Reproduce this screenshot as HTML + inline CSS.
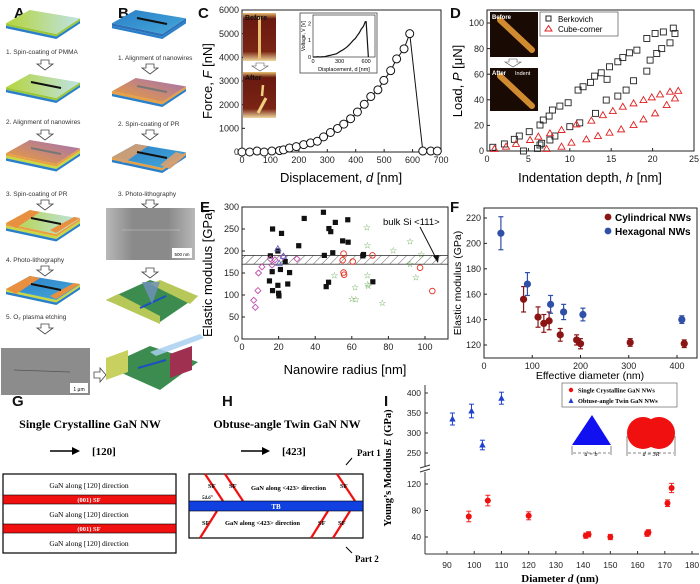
<!DOCTYPE html>
<html><head><meta charset="utf-8"><style>
html,body{margin:0;padding:0;background:#fff;}
svg{display:block;font-family:"Liberation Sans",sans-serif;}
.serif{font-family:"Liberation Serif",serif;}
</style></head><body>
<svg id="fig" width="700" height="584" viewBox="0 0 700 584" xmlns="http://www.w3.org/2000/svg">
<defs>
<linearGradient id="gA" x1="0" x2="1" y1="0" y2="0"><stop offset="0" stop-color="#b5d43a"/><stop offset="1" stop-color="#bfe3e6"/></linearGradient>
<linearGradient id="gPR" x1="0" x2="1" y1="1" y2="0"><stop offset="0" stop-color="#f0a030"/><stop offset="1" stop-color="#a070b8"/></linearGradient>
<linearGradient id="gB" x1="0" x2="1" y1="0" y2="1"><stop offset="0" stop-color="#2a7fc8"/><stop offset="1" stop-color="#45a8d8"/></linearGradient>
<linearGradient id="gSEM" x1="0" x2="1"><stop offset="0" stop-color="#b8b8b8"/><stop offset="0.3" stop-color="#8a8a8a"/><stop offset="0.7" stop-color="#8a8a8a"/><stop offset="1" stop-color="#b8b8b8"/></linearGradient>
<pattern id="hatch" width="6" height="6" patternUnits="userSpaceOnUse" patternTransform="rotate(45)"><line x1="0" y1="0" x2="0" y2="6" stroke="#333" stroke-width="0.8"/></pattern>
<linearGradient id="gPhoto" x1="0" x2="0" y1="0" y2="1"><stop offset="0" stop-color="#e8c070"/><stop offset="0.12" stop-color="#6a1a10"/><stop offset="0.8" stop-color="#7a2414"/><stop offset="1" stop-color="#f0d8a0"/></linearGradient>
</defs>

<g font-family="Liberation Sans" font-weight="bold" font-size="15" fill="#111">
<text x="14" y="18">A</text>
<text x="118" y="18">B</text>
<text x="198" y="18">C</text>
<text x="450" y="18">D</text>
<text x="200" y="212">E</text>
<text x="450" y="212">F</text>
<text x="12" y="406">G</text>
<text x="222" y="406">H</text>
<text x="384" y="406">I</text>
</g>

<g id="panelAB"></g>
<g id="panelC"></g>
<g id="panelD"></g>
<g id="panelE"></g>
<g id="panelF"></g>

<g class="serif" font-family="Liberation Serif">
<text x="90" y="428" text-anchor="middle" font-size="12" font-weight="bold">Single Crystalline GaN NW</text>
<line x1="50" y1="451" x2="76" y2="451" stroke="#000" stroke-width="1.5"/>
<polygon points="80,451 72,447 72,455" fill="#000"/>
<text x="92" y="455" font-size="11" font-weight="bold">[120]</text>
<rect x="3" y="474" width="173" height="79" fill="#fff" stroke="#000" stroke-width="1.2"/>
<rect x="3" y="495" width="173" height="9" fill="#f01010" stroke="#000" stroke-width="0.6"/>
<rect x="3" y="524" width="173" height="9" fill="#f01010" stroke="#000" stroke-width="0.6"/>
<g font-size="7.5" text-anchor="middle">
<text x="89" y="488">GaN along [120] direction</text>
<text x="89" y="502" fill="#fff" font-size="6.5" font-weight="bold">(001) SF</text>
<text x="89" y="517">GaN along [120] direction</text>
<text x="89" y="531" fill="#fff" font-size="6.5" font-weight="bold">(001) SF</text>
<text x="89" y="546">GaN along [120] direction</text>
</g>
</g>

<g font-family="Liberation Serif">
<text x="287" y="428" text-anchor="middle" font-size="12" font-weight="bold">Obtuse-angle Twin GaN NW</text>
<line x1="241" y1="451" x2="266" y2="451" stroke="#000" stroke-width="1.5"/>
<polygon points="270,451 262,447 262,455" fill="#000"/>
<text x="282" y="455" font-size="11" font-weight="bold">[423]</text>
<text x="357" y="456" font-size="9" font-weight="bold">Part 1</text>
<line x1="352" y1="458" x2="346" y2="465" stroke="#000" stroke-width="1"/>
<text x="355" y="562" font-size="9" font-weight="bold">Part 2</text>
<line x1="352" y1="553" x2="346" y2="547" stroke="#000" stroke-width="1"/>
<rect x="189" y="474" width="174" height="64" fill="#fff" stroke="#000" stroke-width="1.2"/>
<g stroke="#f01010" stroke-width="2.2">
<line x1="205" y1="474" x2="223" y2="501"/><line x1="225" y1="474" x2="243" y2="501"/><line x1="337" y1="474" x2="355" y2="501"/>
<line x1="217" y1="511" x2="200" y2="538"/><line x1="328" y1="511" x2="311" y2="538"/><line x1="350" y1="511" x2="333" y2="538"/>
</g>
<rect x="189" y="501" width="174" height="10" fill="#1040e0" stroke="#000" stroke-width="0.6"/>
<text x="276" y="509" text-anchor="middle" fill="#fff" font-size="7" font-weight="bold">TB</text>
<g font-size="6.5" font-weight="bold">
<text x="208" y="488">SF</text><text x="229" y="488">SF</text><text x="340" y="488">SF</text>
<text x="251" y="490">GaN along &lt;423&gt; direction</text>
<text x="202" y="525">SF</text><text x="225" y="525">GaN along &lt;423&gt; direction</text>
<text x="318" y="525">SF</text><text x="338" y="525">SF</text>
<text x="202" y="499" font-size="5" font-style="italic">54.6°</text>
</g>
</g>

<g id="panelI"></g>
</svg>

<script>
var NS='http://www.w3.org/2000/svg';
function mk(parent,tag,attrs,text){var e=document.createElementNS(NS,tag);for(var k in attrs)e.setAttribute(k,attrs[k]);if(text!==undefined)e.textContent=text;parent.appendChild(e);return e;}

/* ---------- DATA ---------- */
var cDisp=[0,27,53,78,105,132,146,167,191,217,241,265,287,311,336,358,382,406,430,453,478,499,523,544,570,590,636,664,687];
var cForce=[0,0,40,0,40,60,90,170,227,312,383,454,639,824,994,1179,1406,1690,2016,2343,2627,3025,3437,3934,4360,5000,40,40,40];
var cXTicks=[0,100,200,300,400,500,600,700];
var cYTicks=[0,1000,2000,3000,4000,5000,6000];
var dBerkH=[0.7,2.1,3.3,3.9,5.1,6.4,6.8,7.5,7.9,8.8,9.8,11,11.6,12.5,13,13.8,14.5,14.8,15.8,16.4,17.2,18.1,19.3,20.3,21.3,22.5,4.4,6.1,6.4,6.6,7.6,8.2,10,11.2,13.1,14.4,15.8,16.8,17.7,19.3,19.7,20.5,21.1,22.1,22.7];
var dBerkP=[2.9,5.5,9.1,11.7,15.1,20.3,24.2,27.3,32,35.1,37.7,47.6,50.2,53.6,58.5,61.1,56,65.8,69.7,73,76.7,78.8,87.9,91.8,93,96,0,2,4.7,6,8.6,11.7,19,22,29.4,39.8,42.9,47.6,54.9,62.4,71,76.2,80,84.5,91.8];
var dCubeH=[0.9,2.3,3.5,5.2,6.2,7.6,9,10.8,12.6,14,15.2,16.4,17.7,18.9,19.9,20.9,22.1,23.1,7.2,9,10.2,12,13.4,14.8,16.2,17.7,18.9,20.3,21.7,22.7];
var dCubeP=[1.6,3.4,5.5,8.6,11.2,13.8,16.4,20.8,23.7,28,31.2,34.6,37.2,39.8,41.9,44.2,46.3,47,1.6,3.4,6.5,9.1,11.7,14.3,16.9,20.3,24.7,29.4,35.9,41.1];
var dXTicks=[0,5,10,15,20,25];
var dYTicks=[0,20,40,60,80,100];
var eSqR=[16.7,21.6,34,44.5,47.5,48.5,51,57.8,55,58,31,15.5,19.6,49.6,45,66.4,66,23.6,16.5,21,26,15,19.6,25,16.7,20,20.2,47.3,46,71.5];
var eSqE=[250,240,274,288,251,244,265,271,223,220,212,189,200,196,190,192,189,176,153,158,151,132,122,125,110,104,98,129,119,130];
var eStarR=[68.2,68.5,91.8,82.7,98,91.8,95,50.5,68.5,68.7,69,61.8,60,62.2,76.7];
var eStarE=[253,213,222,201,192,170,140,144,144,124,120,117,91,90,82];
var eCircR=[55.5,55,60.5,71.3,55.5,55.8,97.3,104];
var eCircE=[194,179,176,190,151,146,162,109];
var eDiaR=[9,8.7,6.4,7.3,10.9,15.5,22.4,30,16.4,18];
var eDiaE=[150,110,88,72,164,182,187,182,168,180];
var eTriR=[19.6,20.3,22.7];
var eTriE=[205,172,188];
var eBand=[170,190];
var eXTicks=[0,20,40,60,80,100];
var eYTicks=[0,50,100,150,200,250,300];
var fCylD=[82,112,124,135,158,192,200,303,415];
var fCylE=[156,142,137,139,128,124,121,122,121];
var fCylErr=[10,8,7,7,5,4,4,3,3];
var fHexD=[35,90,138,165,205,410];
var fHexE=[208,168,152,146,144,140];
var fHexErr=[13,9,7,6,5,3];
var fXTicks=[0,100,200,300,400];
var fYTicks=[120,140,160,180,200,220];
var iTwinD=[92,99,103,110];
var iTwinE=[335,355,270,387];
var iTwinErr=[15,17,12,15];
var iSingD=[98,105,120,141,142,150,163.5,164,171,172.5];
var iSingE=[71,95,72,42,44,40,45,47,91,114];
var iSingErr=[8,8,6,4,4,4,4,4,5,7];
var iXTicks=[90,100,110,120,130,140,150,160,170,180];
var iYTicksLow=[40,80,120];
var iYTicksHigh=[250,300,350,400];

function lin(d0,d1,p0,p1){return function(v){return p0+(v-d0)*(p1-p0)/(d1-d0);};}
function axisBox(g,x0,y0,x1,y1){var r=mk(g,'rect',{x:x0,y:y0,width:x1-x0,height:y1-y0,fill:'none',stroke:'#222','stroke-width':1});

}
function xTicks(g,ticks,sx,y,fs,len){ticks.forEach(function(t){mk(g,'line',{x1:sx(t),x2:sx(t),y1:y,y2:y-len,stroke:'#222','stroke-width':1});
var tx=mk(g,'text',{x:sx(t),y:y+fs+2,'font-size':fs,'text-anchor':'middle',fill:'#222'},String(t));

});}
function yTicks(g,ticks,sy,x,fs,len){ticks.forEach(function(t){mk(g,'line',{x1:x,x2:x+len,y1:sy(t),y2:sy(t),stroke:'#222','stroke-width':1});
var tx=mk(g,'text',{x:x-3,y:sy(t)+fs*0.35,'font-size':fs,'text-anchor':'end',fill:'#222'},String(t));

});}

(function(){
var g=document.getElementById('panelAB');
function slab(x,y,top,layers){
  var w=74,h=24,tk=2.5;
  var pts=[[x,y+h*0.55],[x+w*0.32,y],[x+w,y+h*0.35],[x+w*0.68,y+h]];
  var off=0;
  layers.forEach(function(c){mk(g,'polygon',{points:[pts[0][0]+','+(pts[0][1]+off),pts[3][0]+','+(pts[3][1]+off),pts[2][0]+','+(pts[2][1]+off),pts[2][0]+','+(pts[2][1]+off+tk),pts[3][0]+','+(pts[3][1]+off+tk),pts[0][0]+','+(pts[0][1]+off+tk)].join(' '),fill:c});off+=tk;});
  var t=mk(g,'polygon',{points:pts.map(function(p){return p.join(',');}).join(' '),fill:top});
  
  
  return pts;
}
function wire(x,y,c){mk(g,'line',{x1:x+25,y1:y+8,x2:x+55,y2:y+14,stroke:c||'#111','stroke-width':2});}
function cap(x,y,t){var e=mk(g,'text',{x:x,y:y,'font-size':6.5,fill:'#333'},t);

}
function arrow(cx,y){var a=mk(g,'polygon',{points:[cx-4,y,cx+4,y,cx+4,y+4,cx+8,y+4,cx,y+10,cx-8,y+4,cx-4,y+4].join(' '),fill:'#fff',stroke:'#444','stroke-width':0.8});

}
slab(6,10,'url(#gA)',['#9bc83a','#2a7fc8']);cap(6,54,'1. Spin-coating of PMMA');arrow(45,60);
slab(6,74,'url(#gA)',['#9bc83a','#2a7fc8']);wire(6,74);cap(6,124,'2. Alignment of nanowires');arrow(45,130);
slab(6,140,'url(#gPR)',['#e8a040','#c8d840','#2a7fc8']);wire(6,140,'#777');cap(6,196,'3. Spin-coating of PR');arrow(45,200);
slab(6,210,'url(#gA)',['#e8a040','#c8d840','#2a7fc8']);
mk(g,'polygon',{points:'6,223 30,210 40,212 16,228',fill:'#e89040'});mk(g,'polygon',{points:'50,230 74,217 80,218 56,233',fill:'#e89040'});wire(6,210);cap(6,262,'4. Photo-lithography');arrow(45,266);
slab(6,276,'url(#gB)',['#c8d840','#2a7fc8']);
mk(g,'polygon',{points:'6,289 30,276 40,278 16,294',fill:'#e89040'});mk(g,'polygon',{points:'50,296 74,283 80,284 56,299',fill:'#e89040'});wire(6,276);cap(6,319,'5. O\u2082 plasma etching');arrow(45,324);
var sem=mk(g,'rect',{x:1,y:348,width:89,height:47,fill:'#8c8c8c'});


mk(g,'line',{x1:14,y1:370,x2:70,y2:372,stroke:'#555','stroke-width':0.8});
mk(g,'rect',{x:70,y:383,width:18,height:10,fill:'#fff'});mk(g,'text',{x:79,y:391,'font-size':5,'text-anchor':'middle'},'1 \u03bcm');
mk(g,'polygon',{points:'94,372 100,372 100,368 106,375 100,382 100,378 94,378',fill:'#fff',stroke:'#444','stroke-width':0.8});
slab(112,10,'url(#gB)',['#2a6fb8','#2a7fc8']);wire(112,10);cap(118,60,'1. Alignment of nanowires');arrow(150,64);
slab(112,78,'url(#gPR)',['#e8a040','#2a7fc8']);wire(112,78,'#777');cap(118,126,'2. Spin-coating of PR');arrow(150,130);
slab(112,144,'url(#gB)',['#e8a040','#2a7fc8']);
mk(g,'polygon',{points:'112,157 136,144 148,146 124,163',fill:'#d8a070',opacity:0.9});mk(g,'polygon',{points:'160,165 176,152 186,155 170,169',fill:'#d8a070',opacity:0.9});wire(112,144);cap(118,196,'3. Photo-lithography');arrow(150,200);
var sem2=mk(g,'rect',{x:106,y:208,width:89,height:52,fill:'url(#gSEM)'});


mk(g,'line',{x1:122,y1:230,x2:180,y2:230,stroke:'#ccc','stroke-width':0.6});
mk(g,'rect',{x:172,y:248,width:20,height:10,fill:'#fff'});mk(g,'text',{x:182,y:256,'font-size':4.5,'text-anchor':'middle'},'500 nm');
arrow(150,268);
mk(g,'polygon',{points:'106,300 150,280 198,296 160,322',fill:'#3c8c50'});
mk(g,'polygon',{points:'106,300 118,294 160,316 160,324',fill:'#b8c858'});mk(g,'polygon',{points:'150,284 160,280 198,296 190,304',fill:'#b8c858'});
mk(g,'line',{x1:140,y1:308,x2:166,y2:296,stroke:'#1a50c0','stroke-width':2});
mk(g,'polygon',{points:'142,282 160,282 152,304',fill:'#7090c0',opacity:0.8});
mk(g,'polygon',{points:'106,366 150,346 198,362 160,390',fill:'#3c8c50'});
mk(g,'polygon',{points:'106,358 128,350 128,372 106,380',fill:'#c8d060'});mk(g,'polygon',{points:'170,354 192,346 192,370 170,378',fill:'#a03050'});
mk(g,'line',{x1:138,y1:368,x2:166,y2:360,stroke:'#1a50c0','stroke-width':2});
mk(g,'polygon',{points:'150,352 200,334 204,338 156,356',fill:'#a8d0f0',opacity:0.85});
})();

(function(){
var g=document.getElementById('panelC');
var sx=lin(0,700,242,441), sy=lin(0,6000,152,10);
axisBox(g,242,10,441,152);
xTicks(g,cXTicks,sx,152,9,3);yTicks(g,cYTicks,sy,242,9,3);
var xt=mk(g,'text',{x:341,y:182,'font-size':13,'text-anchor':'middle'},'Displacement, ');
mk(xt,'tspan',{'font-style':'italic'},'d');mk(xt,'tspan',{},' [nm]');


var yt=mk(g,'text',{x:0,y:0,'font-size':13,'text-anchor':'middle',transform:'translate(212,81) rotate(-90)'},'Force, ');
mk(yt,'tspan',{'font-style':'italic'},'F');mk(yt,'tspan',{},' [nN]');


var pts=cDisp.map(function(d,i){return sx(d)+','+sy(cForce[i]);}).join(' ');
var pl=mk(g,'polyline',{points:pts,fill:'none',stroke:'#111','stroke-width':1});


cDisp.forEach(function(d,i){var c=mk(g,'circle',{cx:sx(d),cy:sy(cForce[i]),r:4,fill:'#fff',stroke:'#111','stroke-width':1});

});
var p1=mk(g,'rect',{x:243,y:13,width:33,height:48,fill:'url(#gPhoto)'});


mk(g,'rect',{x:258,y:17,width:3,height:42,fill:'#e8c070'});
mk(g,'text',{x:245,y:20,'font-size':7,'font-weight':'bold',fill:'#111'},'Before');
mk(g,'polygon',{points:'256,63 264,63 264,66 268,66 260,71 252,66 256,66',fill:'#fff',stroke:'#555','stroke-width':0.6});
var p2=mk(g,'rect',{x:243,y:72,width:33,height:46,fill:'url(#gPhoto)'});


mk(g,'line',{x1:263,y1:85,x2:262,y2:96,stroke:'#f0d080','stroke-width':2.5});
mk(g,'line',{x1:258,y1:113,x2:266,y2:98,stroke:'#f0d080','stroke-width':3});
mk(g,'text',{x:245,y:80,'font-size':7,'font-weight':'bold',fill:'#111'},'After');
var ib=mk(g,'rect',{x:300,y:13,width:77,height:60,fill:'#fff',stroke:'#444','stroke-width':0.8});


var ix=lin(0,700,313,375), iy=lin(0,2.5,57,15);
mk(g,'rect',{x:313,y:15,width:62,height:42,fill:'none',stroke:'#333','stroke-width':0.7});
var vp=[];cDisp.forEach(function(d,i){if(d<=600)vp.push(ix(d)+','+iy(cForce[i]/5000*2.1));});
vp.push(ix(600)+','+iy(2.1));vp.push(ix(625)+','+iy(0));
mk(g,'polyline',{points:vp.join(' '),fill:'none',stroke:'#111','stroke-width':1.2});
[0,300,600].forEach(function(t){mk(g,'text',{x:ix(t),y:63,'font-size':5.5,'text-anchor':'middle'},String(t));});
[0,1,2].forEach(function(t){mk(g,'text',{x:311,y:iy(t)+2,'font-size':5.5,'text-anchor':'end'},String(t));});
mk(g,'text',{x:344,y:71,'font-size':5.5,'text-anchor':'middle'},'Displacement, d [nm]');
mk(g,'text',{x:0,y:0,'font-size':5,'text-anchor':'middle',transform:'translate(305,36) rotate(-90)'},'Voltage, V [V]');
})();

(function(){
var g=document.getElementById('panelD');
var sx=lin(0,25,487,694), sy=lin(0,100,151,23);
axisBox(g,487,10,694,151);
xTicks(g,dXTicks,sx,151,9,3);yTicks(g,dYTicks,sy,487,9,3);
var xt=mk(g,'text',{x:590,y:182,'font-size':13,'text-anchor':'middle'},'Indentation depth, ');
mk(xt,'tspan',{'font-style':'italic'},'h');mk(xt,'tspan',{},' [nm]');


var yt=mk(g,'text',{x:0,y:0,'font-size':13,'text-anchor':'middle',transform:'translate(462,81) rotate(-90)'},'Load, ');
mk(yt,'tspan',{'font-style':'italic'},'P');mk(yt,'tspan',{},' [\u03bcN]');


dBerkH.forEach(function(h,i){var r=mk(g,'rect',{x:sx(h)-3,y:sy(dBerkP[i])-3,width:6,height:6,fill:'none',stroke:'#222','stroke-width':0.9});

});
dCubeH.forEach(function(h,i){var x=sx(h),y=sy(dCubeP[i]);var t=mk(g,'polygon',{points:[x,y-3.5,x+3.5,y+2.5,x-3.5,y+2.5].join(' '),fill:'none',stroke:'#e02020','stroke-width':0.9});

});
var a=mk(g,'rect',{x:490,y:12,width:48,height:45,fill:'#1a0a04'});


mk(g,'line',{x1:500,y1:20,x2:532,y2:50,stroke:'#d08a30','stroke-width':6,'stroke-linecap':'round'});
mk(g,'text',{x:492,y:19,'font-size':6,'font-weight':'bold',fill:'#fff'},'Before');
mk(g,'polygon',{points:'509,59 517,59 517,62 521,62 513,67 505,62 509,62',fill:'#fff',stroke:'#555','stroke-width':0.6});
var b=mk(g,'rect',{x:490,y:68,width:48,height:43,fill:'#1a0a04'});


mk(g,'line',{x1:500,y1:76,x2:532,y2:106,stroke:'#d08a30','stroke-width':6,'stroke-linecap':'round'});
mk(g,'text',{x:492,y:75,'font-size':6,'font-weight':'bold',fill:'#fff'},'After');
mk(g,'text',{x:515,y:75,'font-size':5.5,fill:'#fff'},'Indent');
var lg=mk(g,'rect',{x:540,y:12,width:78,height:24,fill:'#fff',stroke:'#555','stroke-width':0.7});


mk(g,'rect',{x:546,y:16,width:5,height:5,fill:'none',stroke:'#222'});
var l1=mk(g,'text',{x:558,y:22,'font-size':8},'Berkovich');


mk(g,'polygon',{points:'548.5,25.5 552,31 545,31',fill:'none',stroke:'#e02020'});
var l2=mk(g,'text',{x:558,y:32,'font-size':8},'Cube-corner');


})();

(function(){
var g=document.getElementById('panelE');
var sx=lin(0,100,242,425), sy=lin(0,300,339,207);
var x1=448;
var band=mk(g,'rect',{x:242,y:sy(eBand[1]),width:x1-242,height:sy(eBand[0])-sy(eBand[1]),fill:'url(#hatch)',stroke:'#333','stroke-width':0.8});


axisBox(g,242,207,x1,339);
xTicks(g,eXTicks,sx,339,9,3);yTicks(g,eYTicks,sy,242,9,3);
var xt=mk(g,'text',{x:345,y:374,'font-size':13,'text-anchor':'middle'},'Nanowire radius [nm]');


var yt=mk(g,'text',{x:0,y:0,'font-size':13,'text-anchor':'middle',transform:'translate(212,273) rotate(-90)'},'Elastic modulus [GPa]');


eSqR.forEach(function(r,i){var e=mk(g,'rect',{x:sx(r)-2.6,y:sy(eSqE[i])-2.6,width:5.2,height:5.2,fill:'#111'});

});
eStarR.forEach(function(r,i){var e=mk(g,'text',{x:sx(r),y:sy(eStarE[i])+3,'font-size':9,'text-anchor':'middle',fill:'#4a9a30'},'\u2606');

});
eCircR.forEach(function(r,i){var e=mk(g,'circle',{cx:sx(r),cy:sy(eCircE[i]),r:2.8,fill:'none',stroke:'#e83020','stroke-width':0.9});

});
eDiaR.forEach(function(r,i){var x=sx(r),y=sy(eDiaE[i]);var e=mk(g,'polygon',{points:[x,y-3,x+3,y,x,y+3,x-3,y].join(' '),fill:'none',stroke:'#c050b0','stroke-width':0.9});

});
eTriR.forEach(function(r,i){var x=sx(r),y=sy(eTriE[i]);var e=mk(g,'polygon',{points:[x,y-3,x+3,y+2,x-3,y+2].join(' '),fill:'none',stroke:'#6060c0','stroke-width':0.9});

});
var lb=mk(g,'text',{x:383,y:225,'font-size':9.5},'bulk Si <111>');


mk(g,'line',{x1:420,y1:227,x2:437,y2:260,stroke:'#111','stroke-width':1});
mk(g,'polygon',{points:'438,263 433,256 439,255',fill:'#111'});
})();

(function(){
var g=document.getElementById('panelF');
var sx=lin(0,400,484,677), sy=lin(120,220,345,218);
axisBox(g,484,208,697,358);
xTicks(g,fXTicks,sx,358,9,3);yTicks(g,fYTicks,sy,484,9,3);
var xt=mk(g,'text',{x:590,y:379,'font-size':10.5,'text-anchor':'middle'},'Effective diameter (nm)');


var yt=mk(g,'text',{x:0,y:0,'font-size':10.5,'text-anchor':'middle',transform:'translate(461,283) rotate(-90)'},'Elastic modulus (GPa)');


function series(D,E,Er,col,name){D.forEach(function(d,i){var x=sx(d),y=sy(E[i]),y0=sy(E[i]-Er[i]),y1=sy(E[i]+Er[i]);
mk(g,'line',{x1:x,x2:x,y1:y0,y2:y1,stroke:col,'stroke-width':1.2});
mk(g,'line',{x1:x-2.5,x2:x+2.5,y1:y0,y2:y0,stroke:col,'stroke-width':1.2});
mk(g,'line',{x1:x-2.5,x2:x+2.5,y1:y1,y2:y1,stroke:col,'stroke-width':1.2});
var c=mk(g,'circle',{cx:x,cy:y,r:3.6,fill:col});

});}
series(fCylD,fCylE,fCylErr,'#8b1515','cylindrical-point');
series(fHexD,fHexE,fHexErr,'#3050a8','hexagonal-point');
mk(g,'circle',{cx:608,cy:217,r:3.4,fill:'#8b1515'});
var l1=mk(g,'text',{x:615,y:221,'font-size':10,'font-weight':'bold'},'Cylindrical NWs');


mk(g,'circle',{cx:608,cy:231,r:3.4,fill:'#3050a8'});
var l2=mk(g,'text',{x:615,y:235,'font-size':10,'font-weight':'bold'},'Hexagonal NWs');


})();

(function(){
var g=document.getElementById('panelI');
var sx=lin(90,180,447,692);
var syL=lin(40,120,537,484), syH=lin(250,400,453,393);
mk(g,'line',{x1:425,y1:385,x2:425,y2:554,stroke:'#333','stroke-width':1});
mk(g,'line',{x1:425,y1:554,x2:699,y2:554,stroke:'#333','stroke-width':1});
mk(g,'rect',{x:420,y:466,width:10,height:6,fill:'#fff'});
mk(g,'line',{x1:420,y1:468,x2:430,y2:465,stroke:'#333'});mk(g,'line',{x1:420,y1:472,x2:430,y2:469,stroke:'#333'});
iXTicks.forEach(function(t){mk(g,'line',{x1:sx(t),x2:sx(t),y1:554,y2:551,stroke:'#333'});
var e=mk(g,'text',{x:sx(t),y:568,'font-size':8.5,'text-anchor':'middle',fill:'#222'},String(t));

});
iYTicksLow.forEach(function(t){mk(g,'line',{x1:425,x2:428,y1:syL(t),y2:syL(t),stroke:'#333'});
var e=mk(g,'text',{x:421,y:syL(t)+3,'font-size':8.5,'text-anchor':'end',fill:'#222'},String(t));

});
iYTicksHigh.forEach(function(t){mk(g,'line',{x1:425,x2:428,y1:syH(t),y2:syH(t),stroke:'#333'});
var e=mk(g,'text',{x:421,y:syH(t)+3,'font-size':8.5,'text-anchor':'end',fill:'#222'},String(t));

});
var xt=mk(g,'text',{x:560,y:582,'font-size':11,'font-weight':'bold','text-anchor':'middle','font-family':'Liberation Serif'},'Diameter ');
mk(xt,'tspan',{'font-style':'italic'},'d');mk(xt,'tspan',{},' (nm)');


var yt=mk(g,'text',{x:0,y:0,'font-size':10.5,'font-weight':'bold','text-anchor':'middle','font-family':'Liberation Serif',transform:'translate(391,468) rotate(-90)'},'Young\u2019s Modulus ');
mk(yt,'tspan',{'font-style':'italic'},'E');mk(yt,'tspan',{},' (GPa)');


function eb(x,y0,y1,col){mk(g,'line',{x1:x,x2:x,y1:y0,y2:y1,stroke:col,'stroke-width':1});
mk(g,'line',{x1:x-2.5,x2:x+2.5,y1:y0,y2:y0,stroke:col});mk(g,'line',{x1:x-2.5,x2:x+2.5,y1:y1,y2:y1,stroke:col});}
iTwinD.forEach(function(d,i){var x=sx(d),y=syH(iTwinE[i]);eb(x,syH(iTwinE[i]-iTwinErr[i]),syH(iTwinE[i]+iTwinErr[i]),'#2040d0');
var t=mk(g,'polygon',{points:[x,y-3.5,x+3.2,y+2.5,x-3.2,y+2.5].join(' '),fill:'#2040d0'});

});
iSingD.forEach(function(d,i){var x=sx(d),y=syL(iSingE[i]);eb(x,syL(iSingE[i]-iSingErr[i]),syL(iSingE[i]+iSingErr[i]),'#f02020');
var c=mk(g,'circle',{cx:x,cy:y,r:3,fill:'#f01010'});

});
var lg=mk(g,'rect',{x:562,y:383,width:115,height:24,fill:'#fff',stroke:'#666','stroke-width':0.7});


mk(g,'circle',{cx:571,cy:390,r:2.2,fill:'#f01010'});
var l1=mk(g,'text',{x:578,y:392.5,'font-size':6.3,'font-weight':'bold','font-family':'Liberation Serif'},'Single Crystalline GaN NWs');


mk(g,'polygon',{points:'571,398 573.5,403 568.5,403',fill:'#2040d0'});
var l2=mk(g,'text',{x:578,y:403,'font-size':6.3,'font-weight':'bold','font-family':'Liberation Serif'},'Obtuse-angle Twin GaN NWs');


var tri=mk(g,'polygon',{points:'592,415 611,445 572,445',fill:'#1010f0'});


mk(g,'line',{x1:572,y1:446,x2:572,y2:455,stroke:'#888'});mk(g,'line',{x1:611,y1:446,x2:611,y2:455,stroke:'#888'});
mk(g,'line',{x1:573,y1:453,x2:610,y2:453,stroke:'#888','stroke-dasharray':'3,2'});
mk(g,'text',{x:591,y:456,'font-size':6,'text-anchor':'middle','font-style':'italic','font-family':'Liberation Serif'},'d = b');
var c1=mk(g,'circle',{cx:643,cy:433,r:16,fill:'#f01010'});


mk(g,'circle',{cx:659,cy:433,r:16,fill:'#f01010'});
mk(g,'line',{x1:627,y1:436,x2:627,y2:456,stroke:'#888'});mk(g,'line',{x1:675,y1:436,x2:675,y2:456,stroke:'#888'});
mk(g,'line',{x1:628,y1:453,x2:674,y2:453,stroke:'#888','stroke-dasharray':'3,2'});
mk(g,'text',{x:651,y:456,'font-size':6,'text-anchor':'middle','font-style':'italic','font-family':'Liberation Serif'},'d = 3R');
})();
</script>
</body></html>
